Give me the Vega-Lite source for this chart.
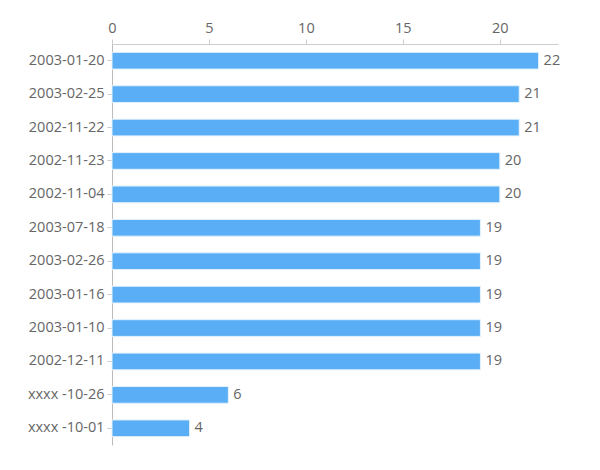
{
  "$schema": "https://vega.github.io/schema/vega-lite/v6.json",
  "autosize": "none",
  "padding": {"left": 112, "top": 44, "right": 42, "bottom": 24},
  "width": 446,
  "height": 401,
  "config": {
    "view": {"stroke": null},
    "font": "Open Sans",
    "axis": {"labelFont": "Open Sans", "labelFontSize": 14.5, "labelColor": "#666666", "domainColor": "#cccccc", "tickColor": "#cccccc", "tickSize": 5, "grid": false, "title": null}
  },
  "data": {"values": [
    {"date": "2003-01-20", "count": 22},
    {"date": "2003-02-25", "count": 21},
    {"date": "2002-11-22", "count": 21},
    {"date": "2002-11-23", "count": 20},
    {"date": "2002-11-04", "count": 20},
    {"date": "2003-07-18", "count": 19},
    {"date": "2003-02-26", "count": 19},
    {"date": "2003-01-16", "count": 19},
    {"date": "2003-01-10", "count": 19},
    {"date": "2002-12-11", "count": 19},
    {"date": "xxxx -10-26", "count": 6},
    {"date": "xxxx -10-01", "count": 4}
  ]},
  "encoding": {
    "y": {"field": "date", "type": "nominal", "sort": null, "scale": {"paddingInner": 0.5, "paddingOuter": 0.25}, "axis": {"labelPadding": 3, "domainColor": "#bbbbbb"}},
    "x": {"field": "count", "type": "quantitative", "scale": {"domain": [0, 23], "nice": false}, "axis": {"orient": "top", "values": [0, 5, 10, 15, 20], "labelPadding": 4, "labelFlush": false}}
  },
  "layer": [
    {"mark": {"type": "bar", "color": "#5aaef5", "stroke": "#e3f1fd", "strokeWidth": 1}},
    {"mark": {"type": "text", "align": "left", "dx": 5, "fontSize": 14.5, "color": "#666666", "font": "Open Sans"}, "encoding": {"text": {"field": "count"}}}
  ]
}
